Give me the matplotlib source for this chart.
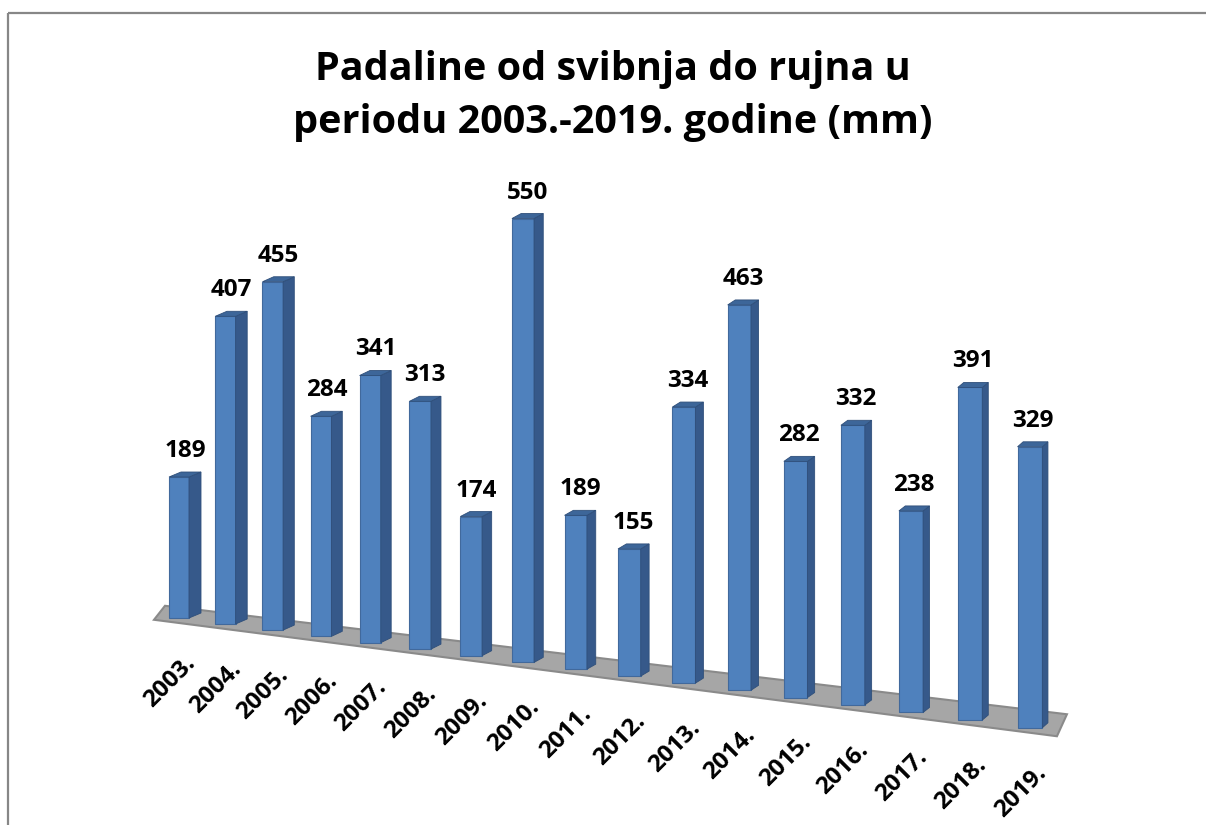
import numpy as np
import matplotlib
matplotlib.use('Agg')
import matplotlib.pyplot as plt
from matplotlib.patches import Polygon, Rectangle

# Data
years = ['2003.', '2004.', '2005.', '2006.', '2007.', '2008.', '2009.', '2010.', '2011.',
         '2012.', '2013.', '2014.', '2015.', '2016.', '2017.', '2018.', '2019.']
rain_mm = [189, 407, 455, 284, 341, 313, 174, 550, 189, 155, 334, 463, 282, 332, 238, 391, 329]
title_lines = ['Padaline od svibnja do rujna u', 'periodu 2003.-2019. godine (mm)']

plt.rcParams['font.family'] = ['Open Sans', 'DejaVu Sans']

FRONT = '#4F81BD'
SIDE = '#36598A'
TOP = '#3D6699'
EDGE = '#41699C'


def front_x(i):
    # perspective: bars spread out towards the right
    return 179 + 46.0*i + 0.449*i**2


def base_y(x):
    return 618 + 0.129*(x - 179)


def scale(i):
    return 0.746 + 0.01024*i - 0.000218*i**2


def main():
    fig = plt.figure(figsize=(12.06, 8.25), dpi=100)
    ax = fig.add_axes([0, 0, 1, 1])
    ax.set_xlim(0, 1206)
    ax.set_ylim(825, 0)
    ax.axis('off')

    # chart border
    ax.add_patch(Rectangle((8, 13), 1210, 830, fill=False, ec='#878787', lw=1.6))

    n = len(rain_mm)
    idx = np.arange(n)
    xc = front_x(idx)
    fw = 20 + 0.3*idx
    sw = 12 - 0.4*idx
    sh = 5.0
    vals = np.array(rain_mm, dtype=float)
    bottoms = base_y(xc)
    heights = vals*scale(idx)
    tops = bottoms - heights

    # floor
    xl, xr = xc[0] - 25, xc[-1] + 27
    floor = [(xl, base_y(xl) + 5), (xr, base_y(xr) + 5),
             (xr + 10, base_y(xr) - 17), (xl + 11, base_y(xl) - 9)]
    ax.add_patch(Polygon(floor, closed=True, fc='#A6A6A6', ec='#8A8A8A', lw=1.5, zorder=1))

    # bars: front face + side + top
    ax.bar(xc, -heights, width=fw, bottom=bottoms, color=FRONT, edgecolor=EDGE,
           linewidth=0.8, zorder=3)
    for i in range(n):
        x0 = xc[i] - fw[i]/2
        x1 = xc[i] + fw[i]/2
        side = [(x1, bottoms[i]), (x1 + sw[i], bottoms[i] - sh),
                (x1 + sw[i], tops[i] - sh), (x1, tops[i])]
        top = [(x0, tops[i]), (x1, tops[i]), (x1 + sw[i], tops[i] - sh),
               (x0 + sw[i], tops[i] - sh)]
        ax.add_patch(Polygon(side, closed=True, fc=SIDE, ec='#2F4F7A', lw=0.6, zorder=3))
        ax.add_patch(Polygon(top, closed=True, fc=TOP, ec='#2F4F7A', lw=0.6, zorder=3))
        # value label
        ax.text(xc[i] + sw[i]/2, tops[i] - sh - 9, str(rain_mm[i]), ha='center',
                va='bottom', fontsize=17.5, fontweight='bold', zorder=4)
        # year label
        ax.text(xc[i] + 4, bottoms[i] + 33, years[i], rotation=45, rotation_mode='anchor',
                ha='right', va='top', fontsize=17.5, fontweight='bold', zorder=4)

    # title
    ax.text(613, 80, title_lines[0], ha='center', va='baseline', fontsize=28.5,
            fontweight='bold')
    ax.text(613, 133, title_lines[1], ha='center', va='baseline', fontsize=28.5,
            fontweight='bold')

    fig.savefig('out.png', dpi=100, facecolor='white')


if __name__ == '__main__':
    main()
